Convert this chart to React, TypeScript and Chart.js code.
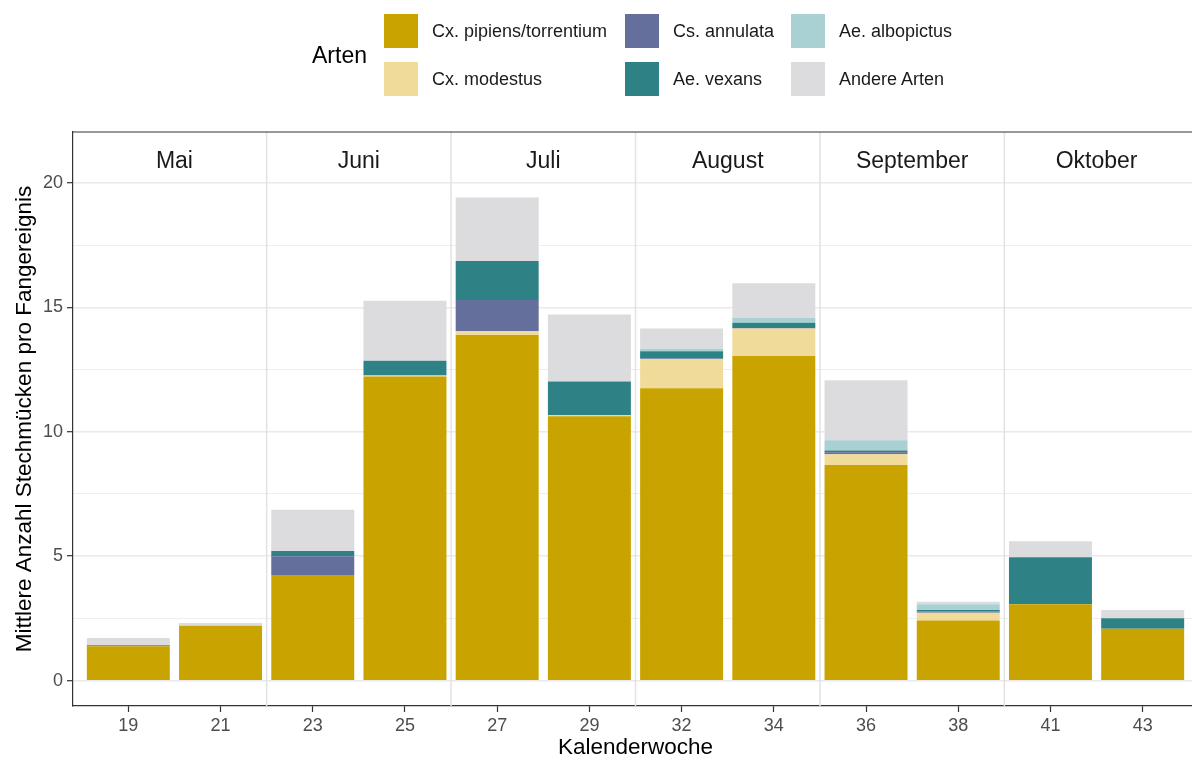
import React, { useEffect, useRef } from 'react';
import { Chart, registerables } from 'chart.js';

Chart.register(...registerables);

// ---------------- data ----------------
const weeks = ['19', '21', '23', '25', '27', '29', '32', '34', '36', '38', '41', '43'];
const months = ['Mai', 'Mai', 'Juni', 'Juni', 'Juli', 'Juli', 'August', 'August', 'September', 'September', 'Oktober', 'Oktober'];

const seriesNames = ['Cx. pipiens/torrentium', 'Cx. modestus', 'Cs. annulata', 'Ae. vexans', 'Ae. albopictus', 'Andere Arten'];
const seriesColors = ['#C9A400', '#F0DB9A', '#646F9C', '#2E8286', '#A9D0D2', '#DCDCDE'];

const cxPipiens = [1.38, 2.2, 4.24, 12.22, 13.88, 10.62, 11.75, 13.04, 8.66, 2.41, 3.07, 2.08];
const cxModestus = [0, 0, 0, 0.04, 0.16, 0.04, 1.17, 1.11, 0.43, 0.32, 0, 0];
const csAnnulata = [0.04, 0, 0.76, 0, 1.25, 0, 0.02, 0.02, 0.08, 0.05, 0, 0];
const aeVexans = [0, 0, 0.21, 0.59, 1.57, 1.36, 0.29, 0.21, 0.07, 0.06, 1.89, 0.43];
const aeAlbopictus = [0, 0, 0, 0, 0, 0, 0.1, 0.19, 0.42, 0.23, 0, 0];
const andereArten = [0.29, 0.11, 1.65, 2.41, 2.55, 2.69, 0.82, 1.39, 2.41, 0.1, 0.64, 0.33];

const seriesValues = [cxPipiens, cxModestus, csAnnulata, aeVexans, aeAlbopictus, andereArten];

const yMajorTicks = [0, 5, 10, 15, 20];
const yMinorTicks = [2.5, 7.5, 12.5, 17.5];

const legendTitle = 'Arten';
const xTitle = 'Kalenderwoche';
const yTitle = 'Mittlere Anzahl Stechmücken pro Fangereignis';

// ---------------- styling ----------------
const FONT = '"Liberation Sans", Arial, Helvetica, sans-serif';
const W = 1200;
const H = 761;

type Group = { name: string; start: number; end: number };
const monthGroups: Group[] = (() => {
  const g: Group[] = [];
  months.forEach((m, i) => {
    const last = g[g.length - 1];
    if (last && last.name === m) last.end = i;
    else g.push({ name: m, start: i, end: i });
  });
  return g;
})();

const monthPlugin = {
  id: 'monthPlugin',
  beforeDatasetsDraw(chart: any) {
    const { ctx, chartArea, scales } = chart;
    const x = scales.x;
    ctx.save();
    ctx.strokeStyle = '#E2E2E2';
    ctx.lineWidth = 1.5;
    monthGroups.slice(1).forEach((g) => {
      const px = x.getPixelForValue(g.start - 0.5);
      ctx.beginPath();
      ctx.moveTo(px, chartArea.top);
      ctx.lineTo(px, chartArea.bottom);
      ctx.stroke();
    });
    ctx.restore();
  },
  afterDraw(chart: any) {
    const { ctx, chartArea, scales } = chart;
    const x = scales.x;
    const y = scales.y;
    ctx.save();
    ctx.fillStyle = '#1A1A1A';
    ctx.font = `23px ${FONT}`;
    ctx.textAlign = 'center';
    ctx.textBaseline = 'alphabetic';
    monthGroups.forEach((g) => {
      const px = x.getPixelForValue((g.start + g.end) / 2);
      const py = y.getPixelForValue(21) + 10;
      ctx.fillText(g.name, px, py);
    });
    // top and right panel border
    ctx.strokeStyle = '#333333';
    ctx.lineWidth = 1.2;
    ctx.beginPath();
    ctx.moveTo(chartArea.left, chartArea.top);
    ctx.lineTo(chartArea.right, chartArea.top);
    ctx.lineTo(chartArea.right, chartArea.bottom);
    ctx.stroke();
    ctx.restore();
  },
};

const legendCols = [384, 625, 791];
const legendRows = [14, 62];
const SW = 34;

export default function App() {
  const ref = useRef<HTMLCanvasElement | null>(null);

  useEffect(() => {
    if (!ref.current) return;
    const isMajor = (v: number) => yMajorTicks.includes(v);
    const chart = new Chart(ref.current, {
      type: 'bar',
      data: {
        datasets: seriesNames.map((name, s) => ({
          label: name,
          data: weeks.map((_, i) => ({ x: i, y: seriesValues[s][i] })),
          backgroundColor: seriesColors[s],
          borderWidth: 0,
          barPercentage: 0.9,
          categoryPercentage: 1,
        })),
      },
      options: {
        animation: false,
        responsive: false,
        devicePixelRatio: 1,
        layout: { padding: { top: 132, right: 2, left: 0, bottom: 0 } },
        plugins: { legend: { display: false }, tooltip: { enabled: false } },
        scales: {
          x: {
            type: 'linear',
            min: -0.6,
            max: weeks.length - 1 + 0.6,
            stacked: true,
            offset: false,
            afterBuildTicks: (axis: any) => {
              axis.ticks = weeks.map((_, i) => ({ value: i }));
            },
            afterFit: (axis: any) => {
              axis.height = 55;
            },
            ticks: {
              autoSkip: false,
              maxRotation: 0,
              padding: 3,
              color: '#4D4D4D',
              font: { family: FONT, size: 18 },
              callback: (v: any) => weeks[v] ?? '',
            },
            grid: {
              display: true,
              offset: false,
              drawOnChartArea: false,
              drawTicks: true,
              tickLength: 6,
              tickColor: '#333333',
              tickWidth: 1.2,
            },
            border: { display: true, color: '#333333', width: 1.2 },
            title: {
              display: true,
              text: xTitle,
              color: '#000000',
              font: { family: FONT, size: 22.5 },
              padding: { top: 0, bottom: 0 },
            },
          },
          y: {
            type: 'linear',
            min: -1.02,
            max: 22.04,
            stacked: true,
            afterBuildTicks: (axis: any) => {
              axis.ticks = [...yMinorTicks, ...yMajorTicks]
                .sort((a, b) => a - b)
                .map((v) => ({ value: v }));
            },
            afterFit: (axis: any) => {
              axis.width = 73;
            },
            ticks: {
              autoSkip: false,
              padding: 4,
              color: '#4D4D4D',
              font: { family: FONT, size: 18 },
              callback: (v: any) => (isMajor(v) ? String(v) : ''),
            },
            grid: {
              color: (c: any) => (c.tick && isMajor(c.tick.value) ? '#EAEAEA' : '#EEEEEE'),
              lineWidth: (c: any) => (c.tick && isMajor(c.tick.value) ? 1.4 : 1),
              tickLength: 6,
              tickWidth: 1.2,
              tickColor: (c: any) => (c.tick && isMajor(c.tick.value) ? '#333333' : 'rgba(0,0,0,0)'),
            },
            border: { display: true, color: '#333333', width: 1.2 },
            title: {
              display: true,
              text: yTitle,
              color: '#000000',
              font: { family: FONT, size: 22.5 },
              padding: { top: 11, bottom: 0 },
            },
          },
        },
      },
      plugins: [monthPlugin],
    } as any);
    return () => chart.destroy();
  }, []);

  return (
    <div
      style={{
        position: 'fixed',
        left: 0,
        top: 0,
        width: W,
        height: H,
        background: '#ffffff',
        fontFamily: FONT,
        overflow: 'hidden',
      }}
    >
      <canvas
        ref={ref}
        width={W}
        height={H}
        style={{ position: 'absolute', left: 0, top: 0, width: W, height: H }}
      />
      <div
        style={{
          position: 'absolute',
          left: 312,
          top: legendRows[0],
          height: legendRows[1] + SW - legendRows[0],
          display: 'flex',
          alignItems: 'center',
          fontSize: 23,
          color: '#000',
        }}
      >
        {legendTitle}
      </div>
      {seriesNames.map((name, s) => {
        const col = Math.floor(s / 2);
        const row = s % 2;
        return (
          <div
            key={name}
            style={{
              position: 'absolute',
              left: legendCols[col],
              top: legendRows[row],
              height: SW,
              display: 'flex',
              alignItems: 'center',
              whiteSpace: 'nowrap',
            }}
          >
            <div style={{ width: SW, height: SW, background: seriesColors[s] }} />
            <span style={{ marginLeft: 14, fontSize: 18, color: '#1A1A1A' }}>{name}</span>
          </div>
        );
      })}
    </div>
  );
}
